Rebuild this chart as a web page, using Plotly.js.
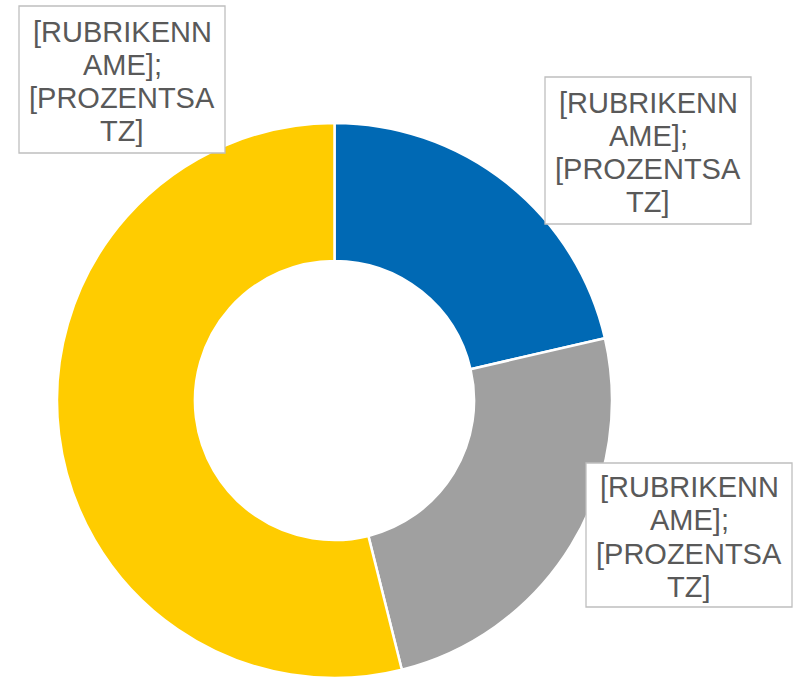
<!DOCTYPE html>
<html>
<head>
<meta charset="utf-8">
<script src="https://cdn.plot.ly/plotly-3.0.1.min.js"></script>
<style>html,body{margin:0;padding:0;background:#fff;}#chart{width:798px;height:685px;}</style>
</head>
<body>
<div id="chart"></div>
<script>
// ---- data ----
const categories = ["[RUBRIKENNAME]", "[RUBRIKENNAME]", "[RUBRIKENNAME]"];
const percentLabels = ["[PROZENTSATZ]", "[PROZENTSATZ]", "[PROZENTSATZ]"];
const values = [21.4, 24.7, 53.9];
const colors = ["#0069B4", "#A0A0A0", "#FFCC00"];

// ---- layout helpers ----
const W = 798, H = 685;
// label box geometry in pixels (left, top, right, bottom)
const boxRects = [
  [545, 77, 751, 224],
  [586, 463, 792, 607],
  [19, 6, 225, 153]
];
function wrap(str, n) {
  const out = [];
  for (let i = 0; i < str.length; i += n) out.push(str.slice(i, i + n));
  return out;
}
const shapes = [];
const annotations = [];
categories.forEach((cat, i) => {
  const lines = wrap(cat + ";", 10).concat(wrap(percentLabels[i], 10));
  const [l, t, r, b] = boxRects[i];
  shapes.push({
    type: "rect", xref: "paper", yref: "paper",
    x0: l / W, x1: r / W, y0: 1 - b / H, y1: 1 - t / H,
    line: {color: "#BFBFBF", width: 1.3}, fillcolor: "#FFFFFF", layer: "above"
  });
  const cx = (l + r) / 2, cy = (t + b) / 2;
  const spacing = 33.3;
  lines.forEach((ln, k) => {
    const off = (k - (lines.length - 1) / 2) * spacing;
    annotations.push({
      xref: "paper", yref: "paper", x: cx / W, y: 1 - (cy + off + 2) / H,
      xanchor: "center", yanchor: "middle", showarrow: false,
      text: ln, font: {family: "Liberation Sans, Arial, sans-serif", size: 29, color: "#595959"}
    });
  });
});

const trace = {
  type: "pie",
  labels: categories.map((c, i) => c + " " + (i + 1)),
  values: values,
  hole: 0.503,
  sort: false,
  direction: "clockwise",
  rotation: 0,
  textinfo: "none",
  hoverinfo: "none",
  marker: {colors: colors, line: {color: "#FFFFFF", width: 2.5}},
  domain: {x: [55 / W, 614 / W], y: [1 - 678 / H, 1 - 123 / H]}
};

const layout = {
  width: W, height: H,
  margin: {l: 0, r: 0, t: 0, b: 0},
  paper_bgcolor: "#FFFFFF",
  showlegend: false,
  shapes: shapes,
  annotations: annotations
};
Plotly.newPlot("chart", [trace], layout, {displayModeBar: false, staticPlot: true});
</script>
</body>
</html>
